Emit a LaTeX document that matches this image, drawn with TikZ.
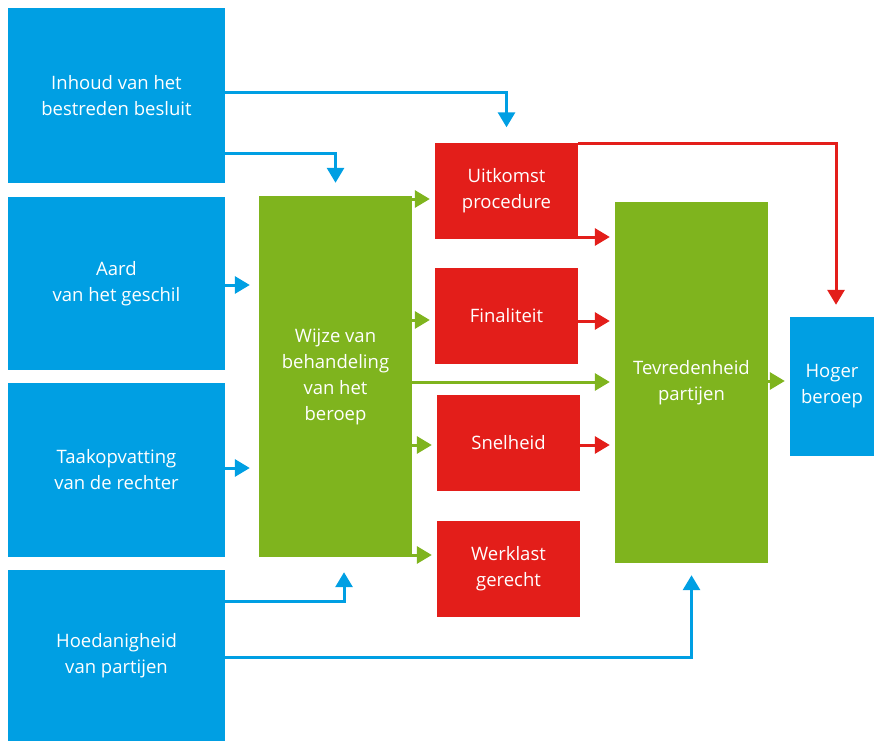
\documentclass[tikz,border=0pt]{standalone}
\usepackage{fontspec}
\setmainfont{Open Sans}
\usetikzlibrary{arrows.meta}
\definecolor{boxblue}{RGB}{0,159,227}
\definecolor{boxgreen}{RGB}{127,180,30}
\definecolor{boxred}{RGB}{227,30,26}

\begin{document}
\begin{tikzpicture}[x=1pt, y=-1pt,
        box/.style={inner sep=0pt, text=white, align=center, font=\fontsize{18.5}{26}\selectfont},
        bluebox/.style={box, fill=boxblue, minimum width=217pt},
        greenbox/.style={box, fill=boxgreen, minimum width=153pt, minimum height=361pt},
        redbox/.style={box, fill=boxred, minimum width=143pt, minimum height=96pt},
        flow/.style={line width=3pt, -{Triangle[length=15pt, width=17pt]}}]
        \useasboundingbox (0,0) rectangle (874,741);
        % left column
        \node[bluebox, minimum height=175pt] (inhoud) at (116.5,95.5) {Inhoud van het\\bestreden besluit};
        \node[bluebox, minimum height=173pt] (aard) at (116.5,283.5) {Aard\\van het geschil};
        \node[bluebox, minimum height=174pt] (taak) at (116.5,470) {Taakopvatting\\van de rechter};
        \node[bluebox, minimum height=171pt] (hoedanig) at (116.5,655.5) {Hoedanigheid\\van partijen};
        \node[greenbox] (wijze) at (335.5,376.5) {Wijze van\\behandeling\\van het\\beroep};
        % red boxes
        \node[redbox] (uitkomst) at (506.5,190.5) {Uitkomst\\procedure};
        \node[redbox] (finaliteit) at (506.5,316) {Finaliteit};
        \node[redbox] (snelheid) at (508.5,443) {Snelheid};
        \node[redbox] (werklast) at (508.5,569) {Werklast\\gerecht};
        \node[greenbox] (tevreden) at (691.5,382.5) {Tevredenheid\\partijen};
        \node[box, fill=boxblue, minimum width=84pt, minimum height=139pt] (hoger) at (832,386.5) {Hoger\\beroep};
        % blue arrows
        \draw[flow, boxblue] (inhoud.east |- 0,93) -| ([yshift=15pt]uitkomst.north);
        \draw[flow, boxblue] (inhoud.east |- 0,153) -| ([yshift=13pt]wijze.north);
        \draw[flow, boxblue, shorten >=9pt] (aard.east |- 0,285) -- (wijze.west |- 0,285);
        \draw[flow, boxblue, shorten >=9pt] (taak.east |- 0,468) -- (wijze.west |- 0,468);
        \draw[flow, boxblue] (hoedanig.east |- 0,601) -| ([xshift=8.5pt, yshift=-15pt]wijze.south);
        \draw[flow, boxblue] (hoedanig.east |- 0,657) -| ([yshift=-12pt]tevreden.south);
        % green arrows
        \foreach \y/\t in {199/uitkomst, 320/finaliteit, 445/snelheid, 555/werklast}
            \draw[flow, boxgreen, shorten >=5pt] (wijze.east |- 0,\y) -- (\t.west |- 0,\y);
        \draw[flow, boxgreen, shorten >=5pt] (wijze.east |- 0,382) -- (tevreden.west |- 0,382);
        \draw[flow, boxgreen, shorten >=5pt] (tevreden.east |- 0,381) -- (hoger.west |- 0,381);
        % red arrows
        \foreach \y/\s in {237/uitkomst, 321/finaliteit, 445/snelheid}
            \draw[flow, boxred, shorten >=5pt] (\s.east |- 0,\y) -- (tevreden.west |- 0,\y);
        \draw[flow, boxred] ([yshift=-1.5pt]uitkomst.north east) -| ([xshift=4pt, yshift=12pt]hoger.north);
    \end{tikzpicture}
\end{document}
